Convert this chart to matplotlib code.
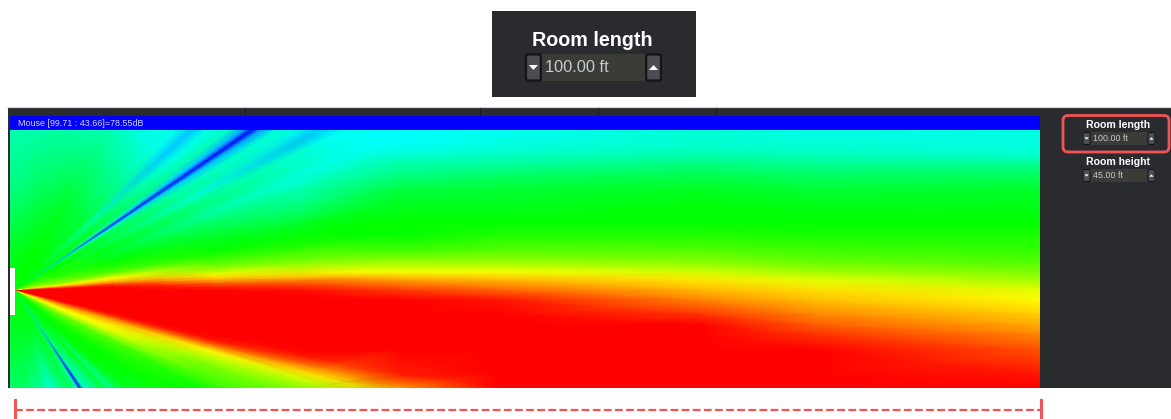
import numpy as np
import matplotlib
matplotlib.use("Agg")
import matplotlib.pyplot as plt
from matplotlib.colors import LinearSegmentedColormap
from matplotlib.patches import Rectangle, FancyBboxPatch, Polygon

plt.rcParams['font.family'] = ['Liberation Sans', 'DejaVu Sans']

# level: 0 blue, .25 cyan, .5 green, .75 yellow, 1 red
# near the speaker the field is a fan, so it is read along rays
radii = [0, 40, 100, 200, 350, 550]
angles = [105, 90, 75, 60, 50, 45, 42.4, 40, 37, 35.2, 34.2, 33.2, 31.5, 29.5, 27.8, 26, 24, 21.8,
          19.5, 17, 15, 13, 11, 9, 7.5, 6, 5, 4, 3, 2, 1, 0, -1, -2, -6, -11, -12.5,
          -14, -15.5, -17, -19, -21, -24, -27, -30, -33, -36, -40, -43, -45.6, -48, -51,
          -55, -56.2, -57.5, -61, -65, -70, -75, -85, -105]
fan_levels = [
    [.48, .46, .36, .28, .28, .28],
    [.50, .47, .38, .30, .28, .28],
    [.50, .49, .42, .30, .28, .28],
    [.50, .50, .46, .31, .28, .28],
    [.50, .49, .44, .28, .27, .27],
    [.50, .48, .44, .27, .25, .25],
    [.50, .46, .35, .20, .17, .17],
    [.50, .48, .42, .28, .25, .25],
    [.52, .50, .44, .33, .28, .28],
    [.52, .45, .33, .20, .14, .12],
    [.50, .20, .05, .02, .00, .00],
    [.52, .45, .33, .20, .14, .14],
    [.55, .50, .43, .32, .27, .27],
    [.55, .50, .45, .34, .24, .24],
    [.55, .50, .42, .30, .18, .18],
    [.58, .52, .46, .36, .27, .27],
    [.58, .54, .48, .38, .28, .27],
    [.60, .52, .46, .35, .25, .25],
    [.62, .54, .48, .40, .30, .27],
    [.64, .56, .50, .44, .33, .27],
    [.66, .58, .52, .47, .38, .29],
    [.68, .60, .54, .49, .45, .36],
    [.70, .62, .58, .51, .49, .44],
    [.74, .66, .66, .56, .50, .48],
    [.80, .72, .75, .60, .55, .50],
    [.85, .80, .80, .66, .58, .52],
    [.90, .85, .85, .72, .62, .55],
    [.95, .92, .92, .78, .68, .58],
    [1.0, .98, .97, .84, .74, .62],
    [1.0, 1.0, 1.0, .92, .85, .74],
    [1.0, 1.0, 1.0, .97, .92, .85],
    [1.0, 1.0, 1.0, 1.0, .98, .93],
    [1.0, 1.0, 1.0, 1.0, 1.0, .97],
    [1.0, 1.0, 1.0, 1.0, 1.0, 1.0],
    [1.0, 1.0, 1.0, 1.0, 1.0, 1.0],
    [1.0, 1.0, 1.0, 1.0, 1.0, 1.0],
    [1.0, 1.0, 1.0, 1.0, .98, 1.0],
    [.90, .95, .97, .98, .87, 1.0],
    [.85, .90, .90, .88, .75, .95],
    [.80, .85, .83, .76, .68, .90],
    [.75, .80, .78, .68, .60, .60],
    [.70, .75, .75, .62, .58, .58],
    [.65, .70, .68, .58, .55, .55],
    [.60, .62, .58, .52, .52, .52],
    [.58, .58, .55, .50, .50, .50],
    [.55, .55, .52, .50, .50, .50],
    [.52, .52, .50, .48, .48, .48],
    [.50, .50, .50, .45, .45, .45],
    [.50, .50, .47, .40, .40, .40],
    [.48, .48, .38, .33, .33, .33],
    [.48, .48, .46, .38, .38, .38],
    [.46, .46, .38, .32, .32, .32],
    [.45, .45, .33, .22, .20, .20],
    [.35, .20, .02, .00, .00, .00],
    [.45, .45, .35, .30, .25, .25],
    [.50, .47, .42, .40, .40, .40],
    [.50, .46, .38, .38, .38, .38],
    [.50, .48, .30, .25, .25, .25],
    [.50, .47, .36, .35, .35, .35],
    [.50, .47, .40, .40, .40, .40],
    [.48, .46, .40, .40, .40, .40],
]

# further out it is read on columns of the picture
far_x = [300, 400, 500, 700, 815, 1040]
far_y = [130, 145, 155, 165, 175, 190, 205, 222, 235, 250, 262, 272, 280, 290, 300, 315, 325, 335, 350, 375, 388]
far_levels = [
    [.25, .25, .26, .29, .27, .28],
    [.25, .26, .28, .30, .29, .28],
    [.28, .29, .31, .33, .32, .30],
    [.30, .34, .35, .38, .36, .36],
    [.34, .37, .40, .42, .40, .41],
    [.42, .44, .45, .47, .45, .46],
    [.46, .47, .47, .49, .48, .48],
    [.50, .50, .50, .50, .50, .50],
    [.50, .50, .53, .53, .52, .52],
    [.58, .56, .58, .58, .56, .55],
    [.65, .65, .65, .63, .60, .58],
    [.75, .74, .74, .70, .66, .62],
    [.88, .84, .82, .77, .72, .66],
    [.96, .94, .90, .82, .78, .72],
    [1.0, 1.0, .98, .87, .81, .75],
    [1.0, 1.0, 1.0, .95, .87, .80],
    [1.0, 1.0, 1.0, 1.0, .91, .83],
    [1.0, 1.0, 1.0, 1.0, .95, .87],
    [1.0, 1.0, 1.0, 1.0, 1.0, .92],
    [.75, .97, 1.0, 1.0, 1.0, .98],
    [.62, .85, 1.0, 1.0, 1.0, 1.0],
]

mouse_text = "Mouse [99.71 : 43.66]=78.55dB"
dividers = [245, 480, 598, 716]
panel = '#2a2b2f'
red_mark = '#f25355'

fig = plt.figure(figsize=(11.71, 4.19), dpi=100)
ax = fig.add_axes([0, 0, 1, 1])
ax.set_xlim(0, 1171)
ax.set_ylim(419, 0)
ax.axis('off')


def box(x0, y0, x1, y1, color, z=1, **kw):
    ax.add_patch(Rectangle((x0, y0), x1 - x0, y1 - y0, facecolor=color, edgecolor='none', zorder=z, **kw))


def spinner(x0, x1, y0, y1, value, font, text_x):
    # value field with a little arrow button on each end
    box(x0, y0, x1, y1, '#3b3b37', z=3)
    h = y1 - y0
    w = h * 0.55
    for bx, up in ((x0 + 1, False), (x1 - w - 1, True)):
        ax.add_patch(FancyBboxPatch((bx, y0 + 0.5), w, h - 1, boxstyle="round,pad=0,rounding_size=1.5",
                                    facecolor='#4c4d52', edgecolor='#141518', lw=h * 0.06, zorder=4))
        cx = bx + w / 2
        cy = y0 + h / 2
        t = h * 0.13
        tip = -t if up else t
        ax.add_patch(Polygon([(cx - t * 1.3, cy - tip * 0.7), (cx + t * 1.3, cy - tip * 0.7), (cx, cy + tip * 0.7)],
                             facecolor='white', edgecolor='none', zorder=5))
    ax.text(text_x, (y0 + y1) / 2 + 0.3, value, color='#c6cbd0', fontsize=font, va='center', ha='left', zorder=5)


# top enlarged widget
box(492, 11, 696, 97, panel)
ax.text(592.5, 41, "Room length", color='white', fontsize=14.2, fontweight='bold', ha='center', va='center', zorder=5)
spinner(525, 662, 54, 81, "100.00 ft", 11.8, 545)

# main panel
box(8, 108, 1171, 388, panel)
ax.plot([8, 1171], [108.5, 108.5], color='#3a3b3f', lw=1, zorder=2)
for d in dividers:
    ax.plot([d, d], [108, 116], color='#1d1e21', lw=0.8, zorder=2)
box(10, 116, 1040, 130, '#0000fa', z=2)
ax.text(18, 123, mouse_text, color='#d4d4ff', fontsize=6.4, va='center', ha='left', zorder=5)

# sound level field: the fan, then the far part faded in over it
cmap = LinearSegmentedColormap.from_list('level', ['#0000ff', '#00ffff', '#00ff00', '#ffff00', '#ff0000'])
field_clip = Rectangle((10, 130), 1030, 258, transform=ax.transData)
r, a = np.meshgrid(radii, np.radians(angles))
fan = ax.pcolormesh(15 + r * np.cos(a), 291 - r * np.sin(a), np.array(fan_levels),
                    cmap=cmap, vmin=0, vmax=1, shading='gouraud', zorder=2)
fan.set_clip_path(field_clip)
fx, fy = np.meshgrid(far_x, far_y)
fade = np.ones(fx.shape)
fade[:, 0] = 0
far = ax.pcolormesh(fx, fy, np.array(far_levels), cmap=cmap, vmin=0, vmax=1, shading='gouraud', zorder=2.1)
far.set_alpha(fade)
far.set_clip_path(field_clip)
box(10, 268, 15, 315, 'white', z=3)

# side controls
ax.text(1118.5, 124.5, "Room length", color='white', fontsize=7.6, fontweight='bold', ha='center', va='center', zorder=5)
spinner(1082, 1156, 132, 145, "100.00 ft", 6.4, 1093)
ax.text(1118.5, 161.5, "Room height", color='white', fontsize=7.6, fontweight='bold', ha='center', va='center', zorder=5)
spinner(1082, 1156, 169, 182, "45.00 ft", 6.4, 1093)
ax.add_patch(FancyBboxPatch((1063, 115.5), 106, 36.5, boxstyle="round,pad=0,rounding_size=5",
                            facecolor='none', edgecolor=red_mark, lw=2, zorder=6))

# length bracket under the field
ax.plot([15, 1040], [410, 410], color=red_mark, lw=1.6, dashes=(3.5, 1.5), zorder=3)
ax.plot([15, 15], [400, 418], color=red_mark, lw=2.2, zorder=3)
ax.plot([1040.5, 1040.5], [400, 418], color=red_mark, lw=2.2, zorder=3)

fig.savefig('out.png', dpi=100)
